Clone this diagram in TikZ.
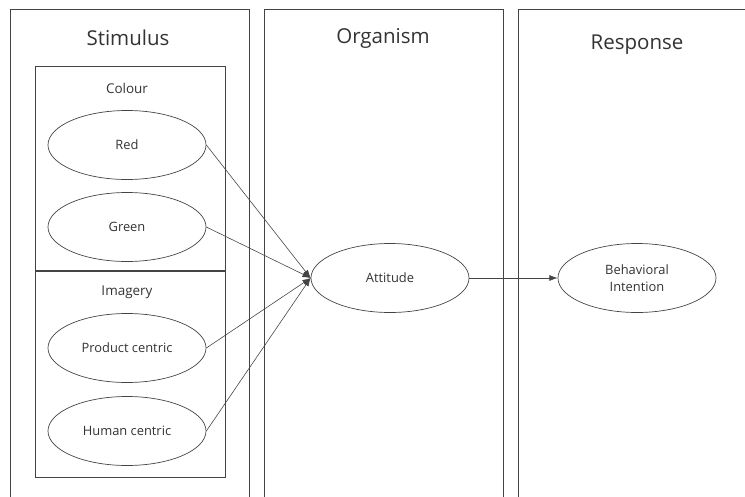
\documentclass[tikz,border=0pt]{standalone}
\usepackage{fontspec}
\setmainfont{Open Sans}
\usetikzlibrary{arrows.meta,shapes.geometric}
\definecolor{linegray}{HTML}{444444}
\definecolor{textgray}{HTML}{333333}
\tikzset{
	oval/.style={ellipse, draw=linegray, line width=0.6pt, inner sep=0pt,
		minimum width=4.74cm, minimum height=2.07cm, text=textgray,
		font=\fontsize{11}{14.5}\selectfont, align=center},
	title/.style={text=textgray, font=\fontsize{17.5}{21}\selectfont},
	subtitle/.style={text=textgray, font=\fontsize{11.5}{14}\selectfont},
	link/.style={draw=linegray, line width=0.5pt, -{Latex[length=7pt,width=5pt]}}
}
\begin{document}
\begin{tikzpicture}[x=0.03cm, y=-0.03cm, line width=0.7pt]
	\useasboundingbox (0,0) rectangle (745,497);
	% columns
	\draw[linegray] (10,497) -- (10,9) -- (249,9) -- (249,497);
	\draw[linegray] (264,497) -- (264,9) -- (503,9) -- (503,497);
	\draw[linegray] (518,497) -- (518,9) -- (745,9);
	\node[title] (stim) at (128,38) {Stimulus};
	\node[title] (org) at (383,38) {Organism};
	\node[title] (resp) at (637,45) {Response};
	% groups
	\draw[linegray] (35,66) rectangle (225,271);
	\draw[linegray] (35,271) rectangle (225,477);
	\draw[linegray, line width=1.2pt] (35,271) -- (225,271);
	\node[subtitle] (colour) at (127,88) {Colour};
	\node[subtitle] (imagery) at (127,292) {Imagery};
	\node[oval] (red) at (127,145) {Red};
	\node[oval] (green) at (127,227) {Green};
	\node[oval] (product) at (127,348) {Product centric};
	\node[oval] (human) at (127,431) {Human centric};
	\node[oval] (att) at (390,278) {Attitude};
	\node[oval] (bi) at (637,278) {Behavioral\\Intention};
	% links
	\draw[link] (red.east) -- (att.west);
	\draw[link] (green.east) -- (att.west);
	\draw[link] (product.east) -- (att.west);
	\draw[link] (human.east) -- (att.west);
	\draw[link] (att.east) -- (bi.west);
\end{tikzpicture}
\end{document}
